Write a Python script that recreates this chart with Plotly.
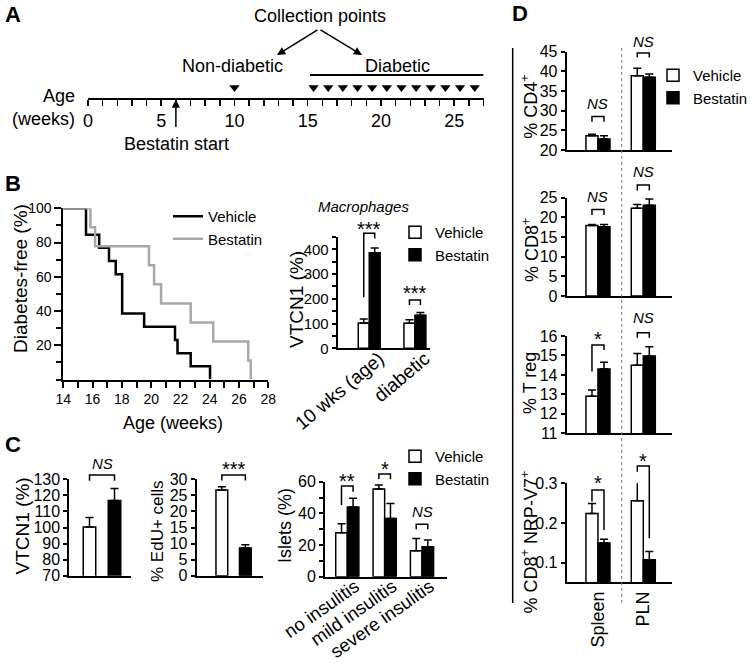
import plotly.graph_objects as go

W, H = 750, 663
FONT = "Liberation Sans, Arial, Helvetica, sans-serif"

# ======================= DATA =======================
# Panel A: study timeline (weeks of age)
timeline_max_week = 27
timeline_tick_weeks = [0, 5, 10, 15, 20, 25]
bestatin_start_week = 6
nondiabetic_collection_weeks = [10]
diabetic_collection_weeks = [15.4, 16.4, 17.4, 18.4, 19.4, 20.4, 21.4, 22.4, 23.4, 24.4, 25.4, 26.4]
diabetic_period_weeks = [15.15, 27]

# Panel B: Kaplan-Meier diabetes-free survival
km_vehicle_weeks = [14, 15.55, 16.45, 17.12, 17.58, 18.02, 19.52, 21.63, 21.8, 22.7, 24.02]
km_vehicle_pct = [100, 84.6, 76.9, 69.2, 61.5, 38.5, 30.8, 23.1, 15.4, 7.7, 0]
km_bestatin_weeks = [14, 15.85, 16.17, 19.85, 20.2, 20.68, 22.7, 24.24, 26.63, 26.8]
km_bestatin_pct = [100, 88.9, 77.8, 66.7, 55.6, 44.4, 33.3, 22.2, 11.1, 0]

# Panel B: macrophage VTCN1
mac_categories = ["10 wks (age)", "diabetic"]
mac_vehicle = [102, 101]
mac_vehicle_err = [16, 14]
mac_bestatin = [386, 134]
mac_bestatin_err = [20, 11]
mac_sig = ["***", "***"]

# Panel C
c_groups = ["Vehicle", "Bestatin"]
vtcn1_values = [100.3, 116.8]
vtcn1_err = [6.0, 7.5]
vtcn1_sig = "NS"
edu_values = [26.7, 8.6]
edu_err = [1.0, 1.0]
edu_sig = "***"

islet_categories = ["no insulitis", "mild insulitis", "severe insulitis"]
islet_vehicle = [27.8, 55.4, 16.4]
islet_vehicle_err = [5.7, 2.5, 7.8]
islet_bestatin = [44.0, 36.8, 18.9]
islet_bestatin_err = [5.5, 9.5, 4.3]
islet_sig = ["**", "*", "NS"]

# Panel D
d_categories = ["Spleen", "PLN"]
cd4_vehicle = [23.6, 38.9]
cd4_vehicle_err = [0.4, 1.9]
cd4_bestatin = [22.8, 38.5]
cd4_bestatin_err = [0.8, 0.8]
cd4_sig = ["NS", "NS"]
cd8_vehicle = [17.9, 22.3]
cd8_vehicle_err = [0.3, 1.0]
cd8_bestatin = [17.6, 23.1]
cd8_bestatin_err = [0.6, 1.6]
cd8_sig = ["NS", "NS"]
treg_vehicle = [12.9, 14.5]
treg_vehicle_err = [0.33, 0.6]
treg_bestatin = [14.3, 14.97]
treg_bestatin_err = [0.35, 0.48]
treg_sig = ["*", "NS"]
nrp_vehicle = [0.224, 0.256]
nrp_vehicle_err = [0.025, 0.050]
nrp_bestatin = [0.149, 0.107]
nrp_bestatin_err = [0.010, 0.021]
nrp_sig = ["*", "*"]

# ======================= HELPERS =======================
traces, shapes, annotations, axes = [], [], [], {}
_n = [0]
HIDDEN = dict(visible=False)


def new_axes(x_px, y_px, xrange, yrange, xopts, yopts):
    _n[0] += 1
    s = '' if _n[0] == 1 else str(_n[0])
    xid, yid = 'x' + s, 'y' + s
    axes['xaxis' + s] = dict(domain=[x_px[0] / W, x_px[1] / W], range=xrange,
                             anchor=yid, fixedrange=True, automargin=False, **xopts)
    axes['yaxis' + s] = dict(domain=[1 - y_px[0] / H, 1 - y_px[1] / H], range=yrange,
                             anchor=xid, fixedrange=True, automargin=False, **yopts)
    return xid, yid


def line_axis(size, **kw):
    d = dict(visible=True, showline=True, linecolor='black', linewidth=2,
             showgrid=False, zeroline=False, ticks='outside', ticklen=5,
             tickwidth=2, tickcolor='black',
             tickfont=dict(family=FONT, size=size, color='black'))
    d.update(kw)
    return d


def minor(dt, length=5, tick0=0):
    return dict(dtick=dt, tick0=tick0, ticks='outside', ticklen=length,
                tickwidth=2, tickcolor='black', showgrid=False)


def bar_panel(x_px, y_px, xrange, yrange, yopts, xopts=None, extra=50):
    xa = line_axis(18, ticks='', showticklabels=False)
    if xopts:
        xa.update(xopts)
    xid, yid = new_axes(x_px, y_px, xrange, yrange, xa, yopts)
    scale = (yrange[1] - yrange[0]) / (y_px[0] - y_px[1])
    bx, by = new_axes(x_px, (y_px[0], y_px[1] - extra), xrange,
                      [yrange[0], yrange[1] + extra * scale], HIDDEN, HIDDEN)
    return xid, yid, bx, by


def add_bars(xid, yid, xs, vals, errs, fill, name, bw, legend=None):
    traces.append(go.Bar(
        x=xs, y=vals, width=bw, name=name, xaxis=xid, yaxis=yid,
        marker=dict(color=fill, line=dict(color='black', width=1.5)),
        error_y=dict(type='data', symmetric=False, array=errs,
                     arrayminus=[0] * len(errs), color='black',
                     thickness=1.5, width=4),
        showlegend=legend is not None, legend=legend if legend else 'legend',
        hoverinfo='skip'))


def add_bracket(xid, yid, xl, xr, top, yl, yr, label, label_y):
    shapes.append(dict(type='path', xref=xid, yref=yid, layer='above',
                       path=f"M{xl},{yl} L{xl},{top} L{xr},{top} L{xr},{yr}",
                       line=dict(color='black', width=1.5)))
    ns = label == 'NS'
    annotations.append(dict(xref=xid, yref=yid, x=(xl + xr) / 2, y=label_y,
                            text='<i>NS</i>' if ns else label, showarrow=False,
                            font=dict(family=FONT, size=15 if ns else 20, color='black'),
                            yshift=0 if ns else -6, xanchor='center', yanchor='middle'))


def text_px(x, y, text, size, angle=0, xanchor='center'):
    annotations.append(dict(xref='paper', yref='paper', x=x / W, y=1 - y / H,
                            text=text, showarrow=False, textangle=angle,
                            font=dict(family=FONT, size=size, color='black'),
                            xanchor=xanchor, yanchor='middle'))


def legend_at(x_px, y_top_px):
    return dict(x=x_px / W, y=1 - y_top_px / H, xanchor='left', yanchor='top',
                bgcolor='rgba(0,0,0,0)', borderwidth=0,
                font=dict(family=FONT, size=15, color='black'), itemwidth=30,
                tracegroupgap=0, traceorder='normal',
                itemclick=False, itemdoubleclick=False)


# ======================= PANEL A: timeline =======================
tx, ty = new_axes(
    (88, 483.5), (97.7, 30), [0, timeline_max_week], [0, 1],
    dict(visible=True, showline=True, linecolor='black', linewidth=2,
         showgrid=False, zeroline=False, ticks='outside', ticklen=6,
         tickwidth=1.5, tickcolor='black', tickmode='array',
         tickvals=timeline_tick_weeks,
         tickfont=dict(family=FONT, size=18, color='black'),
         minor=dict(dtick=1, tick0=0, ticks='outside', ticklen=6,
                    tickwidth=1.5, tickcolor='black')),
    HIDDEN)
collect = nondiabetic_collection_weeks + diabetic_collection_weeks
traces.append(go.Scatter(x=collect, y=[0.15] * len(collect), mode='markers',
                         marker=dict(symbol='triangle-down', size=9, color='black'),
                         xaxis=tx, yaxis=ty, showlegend=False, hoverinfo='skip',
                         cliponaxis=False))
shapes.append(dict(type='line', xref=tx, yref='paper',
                   x0=diabetic_period_weeks[0], x1=diabetic_period_weeks[1],
                   y0=1 - 75 / H, y1=1 - 75 / H, line=dict(color='black', width=2)))
annotations.append(dict(xref=tx, yref='paper', x=bestatin_start_week, y=1 - 99.5 / H,
                        ax=0, ay=29, text='', showarrow=True, arrowhead=2,
                        arrowsize=1.1, arrowwidth=1.5, arrowcolor='black'))
for tip_x, dx in ((277, 42), (362, -43)):
    annotations.append(dict(xref='paper', yref='paper', x=tip_x / W, y=1 - 55 / H,
                            ax=dx, ay=-26, text='', showarrow=True, arrowhead=2,
                            arrowsize=1.1, arrowwidth=1.5, arrowcolor='black'))
text_px(320, 15.5, "Collection points", 18)
text_px(233, 66.5, "Non-diabetic", 18)
text_px(398, 66.5, "Diabetic", 18)
text_px(77, 96, "Age", 18, xanchor='right')
text_px(77, 119, "(weeks)", 18, xanchor='right')
text_px(176, 143.5, "Bestatin start", 18)

# ======================= PANEL B: KM =======================
kx, ky = new_axes(
    (63.3, 268.3), (379.5, 208.3), [14, 28], [0, 100],
    line_axis(14, tick0=14, dtick=2, ticklen=6, minor=minor(1, 6)),
    line_axis(14, tickmode='array', tickvals=[20, 40, 60, 80, 100], ticklen=7,
              minor=minor(10, 5)))
traces.append(go.Scatter(x=km_vehicle_weeks, y=km_vehicle_pct, mode='lines',
                         line=dict(color='black', width=2.5, shape='hv'),
                         name='Vehicle', xaxis=kx, yaxis=ky, legend='legend',
                         hoverinfo='skip', cliponaxis=False))
traces.append(go.Scatter(x=km_bestatin_weeks, y=km_bestatin_pct, mode='lines',
                         line=dict(color='#a8a8a8', width=2.5, shape='hv'),
                         name='Bestatin', xaxis=kx, yaxis=ky, legend='legend',
                         hoverinfo='skip', cliponaxis=False))
text_px(20, 279, "Diabetes-free (%)", 19, angle=-90)
text_px(172.7, 423, "Age (weeks)", 18)

# ======================= PANEL B: macrophages =======================
mbw = 0.24
mx, my, mbx, mby = bar_panel(
    (337.7, 430), (348.3, 237), [-0.69, 1.33], [0, 450],
    line_axis(15, tick0=0, dtick=100, ticklen=4, minor=minor(50, 4)),
    xopts=dict(showticklabels=True, tickmode='array',
               tickvals=list(range(len(mac_categories))), ticktext=mac_categories,
               tickangle=-40, ticklabelshift=10, ticklabelstandoff=-10,
               tickfont=dict(family=FONT, size=19, color='black')))
vx = [i - mbw / 2 for i in range(len(mac_categories))]
bx_ = [i + mbw / 2 for i in range(len(mac_categories))]
add_bars(mx, my, vx, mac_vehicle, mac_vehicle_err, 'white', 'Vehicle', mbw, 'legend2')
add_bars(mx, my, bx_, mac_bestatin, mac_bestatin_err, 'black', 'Bestatin', mbw, 'legend2')
add_bracket(mbx, mby, vx[0], bx_[0], 465, 206, 444, mac_sig[0], 505)
add_bracket(mbx, mby, vx[1], bx_[1], 195, 175, 175, mac_sig[1], 246)
text_px(297, 300, "VTCN1 (%)", 19, angle=-90)
text_px(363, 206, "<i>Macrophages</i>", 15)

# ======================= PANEL C =======================
c1x, c1y, c1bx, c1by = bar_panel(
    (69.3, 130.7), (575.7, 479.3), [-0.808, 1.648], [70, 130],
    line_axis(16, tick0=70, dtick=10, ticklen=4))
add_bars(c1x, c1y, [0], vtcn1_values[:1], vtcn1_err[:1], 'white', c_groups[0], 0.5)
add_bars(c1x, c1y, [1], vtcn1_values[1:], vtcn1_err[1:], 'black', c_groups[1], 0.5)
add_bracket(c1bx, c1by, 0, 1, 132.7, 129.1, 129.1, vtcn1_sig, 140)
text_px(22, 526.5, "VTCN1 (%)", 19, angle=-90)

c2x, c2y, c2bx, c2by = bar_panel(
    (196.7, 263.3), (575.7, 479.3), [-1.07, 1.764], [0, 30],
    line_axis(16, tick0=0, dtick=5, ticklen=4))
add_bars(c2x, c2y, [0], edu_values[:1], edu_err[:1], 'white', c_groups[0], 0.5)
add_bars(c2x, c2y, [1], edu_values[1:], edu_err[1:], 'black', c_groups[1], 0.5)
add_bracket(c2bx, c2by, 0, 1, 31.3, 29.6, 29.6, edu_sig, 35)
text_px(157, 531, "% EdU+ cells", 17, angle=-90)

ibw = 0.31
c3x, c3y, c3bx, c3by = bar_panel(
    (325, 447.3), (576.7, 481.7), [-0.597, 2.677], [0, 60],
    line_axis(16, tick0=0, dtick=20, ticklen=4, minor=minor(10, 4)),
    xopts=dict(showticklabels=True, tickmode='array',
               tickvals=list(range(len(islet_categories))), ticktext=islet_categories,
               tickangle=-35, ticklabelshift=8, ticklabelstandoff=-10,
               tickfont=dict(family=FONT, size=18.5, color='black')))
ivx = [i - ibw / 2 for i in range(len(islet_categories))]
ibx = [i + ibw / 2 for i in range(len(islet_categories))]
add_bars(c3x, c3y, ivx, islet_vehicle, islet_vehicle_err, 'white', 'Vehicle', ibw, 'legend3')
add_bars(c3x, c3y, ibx, islet_bestatin, islet_bestatin_err, 'black', 'Bestatin', ibw, 'legend3')
add_bracket(c3bx, c3by, ivx[0], ibx[0], 57.3, 45.3, 53.7, islet_sig[0], 64.2)
add_bracket(c3bx, c3by, ivx[1], ibx[1], 64.9, 61.7, 61.7, islet_sig[1], 71.6)
add_bracket(c3bx, c3by, ivx[2], ibx[2], 33.1, 29.9, 29.9, islet_sig[2], 41)
text_px(285, 526, "Islets (%)", 18, angle=-90)

# ======================= PANEL D =======================
dbw = 0.265
DX = (566.7, 672.3)
DR = [-0.69, 1.64]
dvx = [i - dbw / 2 for i in range(len(d_categories))]
dbx = [i + dbw / 2 for i in range(len(d_categories))]

d_panels = [
    dict(ypx=(150, 51.7), yr=[20, 45], yax=line_axis(16, tick0=20, dtick=5, ticklen=4),
         veh=cd4_vehicle, veh_err=cd4_vehicle_err, best=cd4_bestatin, best_err=cd4_bestatin_err,
         sig=cd4_sig, br=[(28.5, 27.2, 27.2, 31.7), (44.7, 43.5, 43.5, 47.5)],
         title="% CD4<sup>+</sup>", ty=106.7, legend='legend4'),
    dict(ypx=(296, 197.7), yr=[0, 25], yax=line_axis(16, tick0=0, dtick=5, ticklen=4),
         veh=cd8_vehicle, veh_err=cd8_vehicle_err, best=cd8_bestatin, best_err=cd8_bestatin_err,
         sig=cd8_sig, br=[(22.0, 20.6, 20.6, 25.2), (28.2, 26.8, 26.8, 31.6)],
         title="% CD8<sup>+</sup>", ty=250, legend=None),
    dict(ypx=(433.3, 336), yr=[11, 16], yax=line_axis(16, tick0=11, dtick=1, ticklen=4),
         veh=treg_vehicle, veh_err=treg_vehicle_err, best=treg_bestatin, best_err=treg_bestatin_err,
         sig=treg_sig, br=[(15.54, 14.17, 15.28, 16.14), (16.17, 15.91, 15.91, 16.96)],
         title="% T reg", ty=383, legend=None),
    dict(ypx=(582.3, 483.3), yr=[0.05, 0.3],
         yax=line_axis(16, tickmode='array', tickvals=[0.1, 0.2, 0.3], ticklen=4),
         veh=nrp_vehicle, veh_err=nrp_vehicle_err, best=nrp_bestatin, best_err=nrp_bestatin_err,
         sig=nrp_sig, br=[(0.283, 0.254, 0.182, 0.317), (0.344, 0.329, 0.161, 0.371)],
         title="% CD8<sup>+</sup> NRP-V7<sup>+</sup>", ty=542.5, legend=None,
         xopts=dict(showticklabels=True, tickmode='array',
                    tickvals=list(range(len(d_categories))), ticktext=d_categories,
                    tickangle=-90, tickfont=dict(family=FONT, size=18, color='black'))),
]
for p in d_panels:
    xid, yid, bxid, byid = bar_panel(DX, p['ypx'], DR, p['yr'], p['yax'], p.get('xopts'))
    add_bars(xid, yid, dvx, p['veh'], p['veh_err'], 'white', 'Vehicle', dbw, p['legend'])
    add_bars(xid, yid, dbx, p['best'], p['best_err'], 'black', 'Bestatin', dbw, p['legend'])
    for i, (top, yl, yr, ly) in enumerate(p['br']):
        add_bracket(bxid, byid, dvx[i], dbx[i], top, yl, yr, p['sig'][i], ly)
    text_px(530, p['ty'], p['title'], 18, angle=-90)

# separators in panel D
shapes.append(dict(type='line', xref='paper', yref='paper', x0=512.7 / W, x1=512.7 / W,
                   y0=1 - 48 / H, y1=1 - 603 / H, line=dict(color='black', width=1.5)))
shapes.append(dict(type='line', xref='paper', yref='paper', x0=621.7 / W, x1=621.7 / W,
                   y0=1 - 48 / H, y1=1 - 605 / H, line=dict(color='#777777', width=1, dash='dot')))

# panel letters
for L, x, y in (("A", 3, 14), ("B", 3, 183.5), ("C", 3, 445), ("D", 510, 13.3)):
    text_px(x, y, f"<b>{L}</b>", 22, xanchor='left')

layout = dict(
    width=W, height=H, autosize=False,
    margin=dict(l=0, r=0, t=0, b=0, pad=0, autoexpand=False),
    paper_bgcolor='white', plot_bgcolor='rgba(0,0,0,0)',
    font=dict(family=FONT, color='black'),
    barmode='overlay', hovermode=False, showlegend=True,
    shapes=shapes, annotations=annotations,
    legend=legend_at(168, 200),
    legend2=legend_at(395, 216),
    legend3=legend_at(395, 440),
    legend4=legend_at(653, 59),
)
layout.update(axes)

fig = go.Figure(data=traces, layout=layout)
fig.write_html("out.html", include_plotlyjs=True,
               config=dict(displayModeBar=False, staticPlot=True),
               post_script="document.body.style.margin='0';document.body.style.overflow='hidden';")
